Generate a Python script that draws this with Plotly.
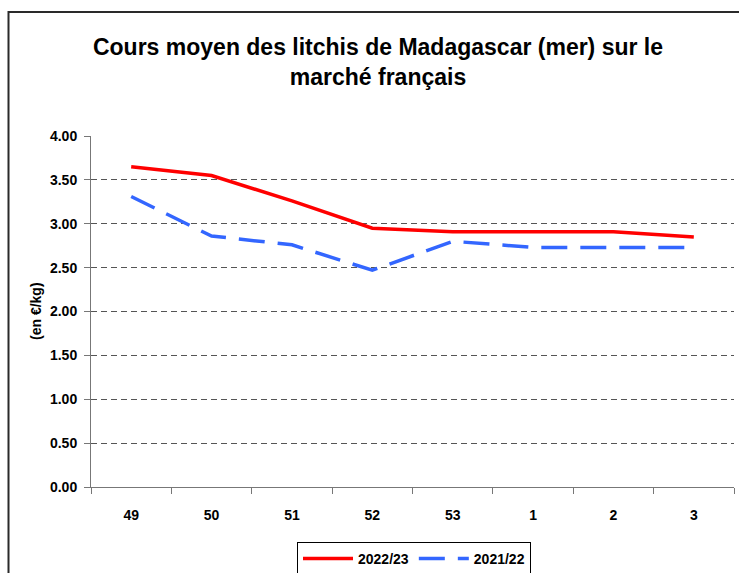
import plotly.graph_objects as go

weeks = ["49", "50", "51", "52", "53", "1", "2", "3"]
price_2022_23 = [3.65, 3.55, 3.26, 2.95, 2.91, 2.91, 2.91, 2.85]
price_2021_22 = [3.31, 2.86, 2.76, 2.47, 2.80, 2.73, 2.73, 2.73]
y_ticks = [0, 0.5, 1.0, 1.5, 2.0, 2.5, 3.0, 3.5, 4.0]

FONT = "Liberation Sans, Arial, sans-serif"

fig = go.Figure()
fig.add_trace(go.Scatter(
    x=weeks, y=price_2022_23, name="2022/23", mode="lines",
    line=dict(color="#FF0000", width=3.5),
))
fig.add_trace(go.Scatter(
    x=weeks, y=price_2021_22, name="2021/22", mode="lines",
    line=dict(color="#3366FF", width=3.5, dash="26px,13px"),
))

W, H = 739, 573
L, R, T, B = 91, 5, 136, 86
pw = W - L - R
ph = H - T - B

def px_x(p):
    return (p - L) / pw

def px_y(p):
    return (H - B - p) / ph

fig.update_layout(
    width=W, height=H,
    margin=dict(l=L, r=R, t=T, b=B, autoexpand=False),
    paper_bgcolor="white", plot_bgcolor="white",
    font=dict(family=FONT, color="black", size=14),
    title=dict(
        text="Cours moyen des litchis de Madagascar (mer) sur le<br>marché français",
        x=378 / W, xanchor="center", y=1 - 55 / H, yanchor="middle",
        font=dict(family=FONT, size=23, weight="bold", color="black"),
    ),
    showlegend=True,
    legend=dict(
        orientation="h", x=px_x(297), xanchor="left", y=px_y(542), yanchor="top",
        bordercolor="black", borderwidth=1, bgcolor="white",
        font=dict(family=FONT, size=14, weight="bold"),
        itemwidth=50, tracegroupgap=0,
    ),
    xaxis=dict(
        type="category", categoryorder="array", categoryarray=weeks,
        range=[-0.5, len(weeks) - 0.5],
        tickson="boundaries", ticks="outside", ticklen=6, tickcolor="#777",
        showline=True, linecolor="#777", linewidth=1, showgrid=False,
        tickfont=dict(family=FONT, size=14, weight="bold"),
        ticklabelstandoff=15, fixedrange=True,
    ),
    yaxis=dict(
        range=[0, 4], tickvals=y_ticks, tickformat=".2f",
        ticks="outside", ticklen=6, tickcolor="#777",
        showline=True, linecolor="#777", linewidth=1,
        showgrid=True, gridcolor="#555", gridwidth=1, griddash="6px,4px",
        zeroline=False,
        tickfont=dict(family=FONT, size=14, weight="bold"),
        ticklabelstandoff=4, fixedrange=True,
    ),
    annotations=[dict(
        text="(en €/kg)", xref="paper", yref="paper",
        x=px_x(36), y=px_y(311), xanchor="center", yanchor="middle",
        textangle=-90, showarrow=False,
        font=dict(family=FONT, size=14, weight="bold", color="black"),
    )],
    shapes=[dict(
        type="rect", xref="paper", yref="paper",
        x0=px_x(8.5), x1=px_x(760), y0=px_y(600), y1=px_y(12),
        line=dict(color="#2a2a2a", width=2), fillcolor="rgba(0,0,0,0)",
        layer="below",
    )],
)

fig.write_html(
    "out.html",
    config={"displayModeBar": False},
    post_script="document.body.style.margin='0';document.body.style.overflow='hidden';",
)
